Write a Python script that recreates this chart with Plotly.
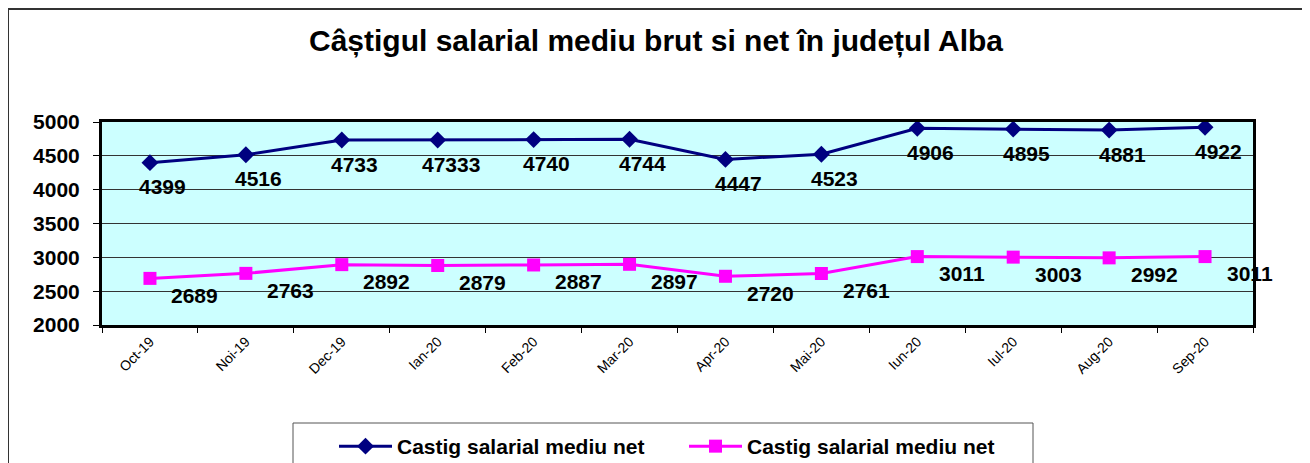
import plotly.graph_objects as go

months = ["Oct-19", "Noi-19", "Dec-19", "Ian-20", "Feb-20", "Mar-20",
          "Apr-20", "Mai-20", "Iun-20", "Iul-20", "Aug-20", "Sep-20"]
brut = [4399, 4516, 4733, 4733, 4740, 4744, 4447, 4523, 4906, 4895, 4881, 4922]
brut_labels = ["4399", "4516", "4733", "47333", "4740", "4744", "4447", "4523",
               "4906", "4895", "4881", "4922"]
net = [2689, 2763, 2892, 2879, 2887, 2897, 2720, 2761, 3011, 3003, 2992, 3011]
net_labels = [str(v) for v in net]
series_names = ["Castig salarial mediu net", "Castig salarial mediu net"]
title_text = "Câștigul salarial mediu brut si net în județul Alba"

FONT = "Liberation Sans, Arial, sans-serif"

fig = go.Figure()
fig.add_trace(go.Scatter(
    x=months, y=brut, name=series_names[0], mode="lines+markers",
    line=dict(color="#000080", width=3),
    marker=dict(symbol="diamond", size=13, color="#000080"),
))
fig.add_trace(go.Scatter(
    x=months, y=net, name=series_names[1], mode="lines+markers",
    line=dict(color="#FF00FF", width=3),
    marker=dict(symbol="square", size=13, color="#FF00FF"),
))

annotations = []
for m, v, t in zip(months, brut, brut_labels):
    annotations.append(dict(x=m, y=v, text=t, showarrow=False, xref="x", yref="y",
                            xshift=13, yshift=-24,
                            font=dict(family=FONT, size=21, color="black", weight="bold")))
for m, v, t in zip(months, net, net_labels):
    annotations.append(dict(x=m, y=v, text=t, showarrow=False, xref="x", yref="y",
                            xshift=45, yshift=-17,
                            font=dict(family=FONT, size=21, color="black", weight="bold")))

# page offset (browser body margin)
OFF = 8
W, H = 1310, 463
# plot area in screenshot pixels: x 102..1253, y 122..325
L = 102 - OFF
T = 122 - OFF
R = W - (1253 - OFF)
B = H - (325 - OFF)
pw, ph = W - L - R, H - T - B

def px_x(x):
    return (x - OFF - L) / pw

def px_y(y):
    return (H - B - (y - OFF)) / ph

shapes = [
    # outer chart border (left and top)
    dict(type="line", xref="paper", yref="paper", x0=px_x(8), x1=px_x(8),
         y0=px_y(9), y1=px_y(480), line=dict(color="#333333", width=2)),
    dict(type="line", xref="paper", yref="paper", x0=px_x(8), x1=px_x(1330),
         y0=px_y(9), y1=px_y(9), line=dict(color="#333333", width=2)),
    # legend box
    dict(type="rect", xref="paper", yref="paper", x0=px_x(293), x1=px_x(1033),
         y0=px_y(480), y1=px_y(423), line=dict(color="#555555", width=1),
         fillcolor="white", layer="below"),
]

fig.update_layout(
    width=W, height=H,
    margin=dict(l=L, r=R, t=T, b=B, autoexpand=False),
    paper_bgcolor="white",
    plot_bgcolor="#CCFFFF",
    title=dict(text=title_text, x=(656 - OFF) / W, xref="container", xanchor="center",
               y=1 - (40 - OFF) / H, yanchor="middle",
               font=dict(family=FONT, size=30, color="black", weight="bold")),
    showlegend=True,
    legend=dict(orientation="h", x=px_x(334), y=px_y(426), xanchor="left", yanchor="top",
                bgcolor="rgba(0,0,0,0)", borderwidth=0,
                font=dict(family=FONT, size=21, color="black", weight="bold"),
                entrywidth=282, itemwidth=53, tracegroupgap=0),
    annotations=annotations,
    shapes=shapes,
    xaxis=dict(type="category", categoryorder="array", categoryarray=months,
               range=[-0.5, len(months) - 0.5],
               tickangle=-45, tickson="boundaries", ticks="outside", ticklen=5,
               tickcolor="black", showgrid=False, showline=True, linecolor="black",
               linewidth=3, mirror=True, zeroline=False, automargin=False,
               tickfont=dict(family=FONT, size=14, color="black")),
    yaxis=dict(range=[2000, 5000], dtick=500, ticks="outside", ticklen=6,
               tickcolor="black", showgrid=True, gridcolor="#333333", gridwidth=1,
               showline=True, linecolor="black", linewidth=3, mirror=True,
               zeroline=False, automargin=False, ticklabelstandoff=9,
               tickfont=dict(family=FONT, size=21, color="black", weight="bold")),
)

fig.write_html("out.html")
